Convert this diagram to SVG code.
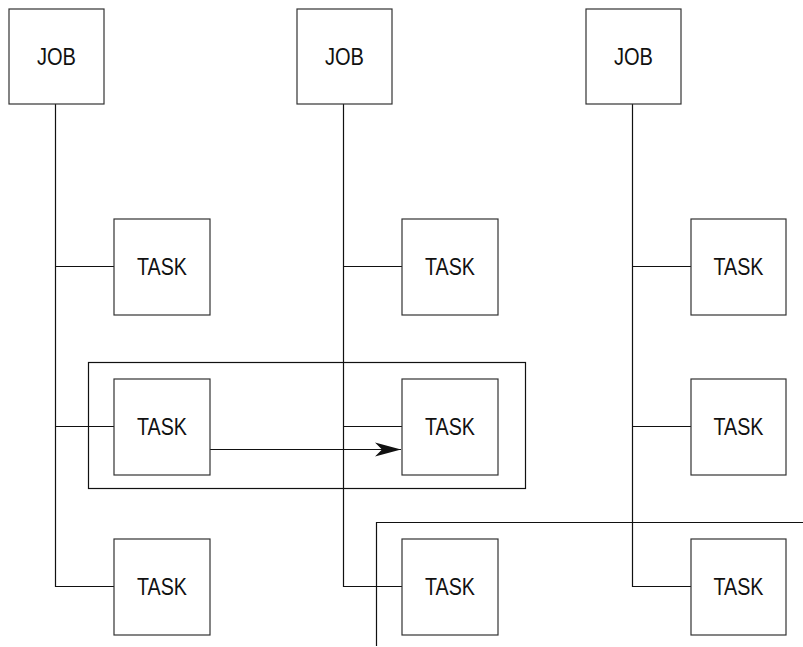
<svg xmlns="http://www.w3.org/2000/svg" width="803" height="647" viewBox="0 0 803 647">
<style>
.box{fill:#fff;stroke:#333;stroke-width:1.2}
.ln{fill:none;stroke:#111;stroke-width:1.2}
.lbl{font-family:"Liberation Sans",Arial,sans-serif;font-size:23px;fill:#111;text-anchor:middle}
</style>
<defs>
<marker id="ah" markerUnits="userSpaceOnUse" markerWidth="28" markerHeight="16" refX="26" refY="8" orient="auto">
<path d="M0,1 L26,8 L0,15 L7,8 Z" fill="#111"/>
</marker>
</defs>
<rect x="0" y="0" width="803" height="647" fill="#fff"/>
<g id="connectors">
<path class="ln" d="M55.5,104 V586.5 H114"/>
<path class="ln" d="M55.5,266.5 H114"/>
<path class="ln" d="M55.5,426.5 H114"/>
<path class="ln" d="M343.5,104 V586.5 H402"/>
<path class="ln" d="M343.5,266.5 H402"/>
<path class="ln" d="M343.5,426.5 H402"/>
<path class="ln" d="M632.5,104 V586.5 H691"/>
<path class="ln" d="M632.5,266.5 H691"/>
<path class="ln" d="M632.5,426.5 H691"/>
<path class="ln" d="M210,449.5 H401" marker-end="url(#ah)"/>
<path class="ln" d="M376.5,646 V522.5 H803" stroke="#444"/>
</g>
<g id="group1"><rect x="88.5" y="362.5" width="437" height="126" fill="none" stroke="#111" stroke-width="1.2"/></g>
<g id="job1"><rect class="box" x="9" y="9" width="95" height="95"/><text class="lbl" x="56.5" y="65" textLength="39" lengthAdjust="spacingAndGlyphs">JOB</text></g>
<g id="job2"><rect class="box" x="297" y="9" width="95" height="95"/><text class="lbl" x="344.5" y="65" textLength="39" lengthAdjust="spacingAndGlyphs">JOB</text></g>
<g id="job3"><rect class="box" x="586" y="9" width="95" height="95"/><text class="lbl" x="633.5" y="65" textLength="39" lengthAdjust="spacingAndGlyphs">JOB</text></g>
<g id="task11"><rect class="box" x="114" y="219" width="96" height="96"/><text class="lbl" x="162" y="275" textLength="50" lengthAdjust="spacingAndGlyphs">TASK</text></g>
<g id="task12"><rect class="box" x="114" y="379" width="96" height="96"/><text class="lbl" x="162" y="435" textLength="50" lengthAdjust="spacingAndGlyphs">TASK</text></g>
<g id="task13"><rect class="box" x="114" y="539" width="96" height="96"/><text class="lbl" x="162" y="595" textLength="50" lengthAdjust="spacingAndGlyphs">TASK</text></g>
<g id="task21"><rect class="box" x="402" y="219" width="96" height="96"/><text class="lbl" x="450" y="275" textLength="50" lengthAdjust="spacingAndGlyphs">TASK</text></g>
<g id="task22"><rect class="box" x="402" y="379" width="96" height="96"/><text class="lbl" x="450" y="435" textLength="50" lengthAdjust="spacingAndGlyphs">TASK</text></g>
<g id="task23"><rect class="box" x="402" y="539" width="96" height="96"/><text class="lbl" x="450" y="595" textLength="50" lengthAdjust="spacingAndGlyphs">TASK</text></g>
<g id="task31"><rect class="box" x="691" y="219" width="95" height="96"/><text class="lbl" x="738.5" y="275" textLength="50" lengthAdjust="spacingAndGlyphs">TASK</text></g>
<g id="task32"><rect class="box" x="691" y="379" width="95" height="96"/><text class="lbl" x="738.5" y="435" textLength="50" lengthAdjust="spacingAndGlyphs">TASK</text></g>
<g id="task33"><rect class="box" x="691" y="539" width="95" height="96"/><text class="lbl" x="738.5" y="595" textLength="50" lengthAdjust="spacingAndGlyphs">TASK</text></g>
</svg>
